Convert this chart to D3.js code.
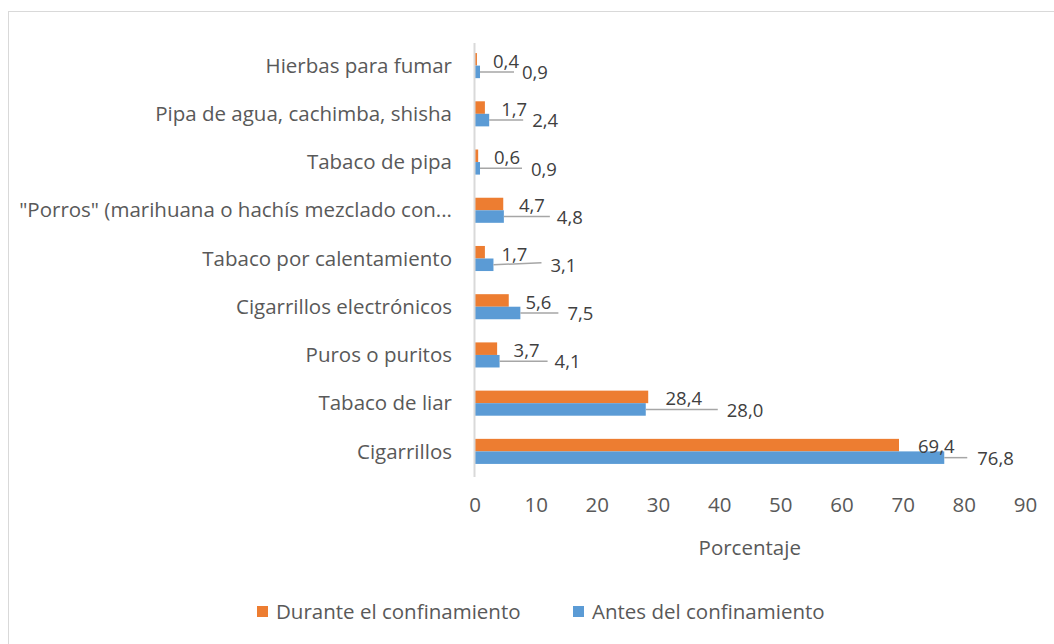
<!DOCTYPE html>
<html>
<head>
<meta charset="utf-8">
<script src="https://cdn.jsdelivr.net/npm/d3@7.9.0/dist/d3.min.js"></script>
<style>
  html, body { margin: 0; padding: 0; background: #fff; }
  svg { display: block; font-family: "Open Sans", sans-serif; }
</style>
</head>
<body>
<svg width="1054" height="644"></svg>
<script>
// categories top to bottom
const categories = [
  'Hierbas para fumar',
  'Pipa de agua, cachimba, shisha',
  'Tabaco de pipa',
  '"Porros" (marihuana o hachís mezclado con...',
  'Tabaco por calentamiento',
  'Cigarrillos electrónicos',
  'Puros o puritos',
  'Tabaco de liar',
  'Cigarrillos'
];
const durante = [0.4, 1.7, 0.6, 4.7, 1.7, 5.6, 3.7, 28.4, 69.4];
const antes = [0.9, 2.4, 0.9, 4.8, 3.1, 7.5, 4.1, 28.0, 76.8];
const seriesNames = ['Durante el confinamiento', 'Antes del confinamiento'];
const xTicks = [0, 10, 20, 30, 40, 50, 60, 70, 80, 90];

// hand-moved label placement (px past the end of the blue bar):
// [orange label centre, leader line end, blue label start]
const labelLayout = [
  [26, 34, 42], [25, 34, 43], [27, 42, 51], [28, 46, 53], [21, 48, 57],
  [18, 38, 47], [27, 48, 55], [38, 72, 81], [-8, 23, 33]
];

const colors = { 'Durante el confinamiento': '#ED7D31', 'Antes del confinamiento': '#5B9BD5' };

const svg = d3.select('svg');

// chart border
svg.append('rect')
  .attr('x', 8.5).attr('y', 11.5)
  .attr('width', 1100).attr('height', 700)
  .attr('fill', 'none').attr('stroke', '#d9d9d9').attr('stroke-width', 1);

const x = d3.scaleLinear().domain([0, 90]).range([474.5, 1025]);
const y = d3.scaleBand().domain(categories).range([43, 477]).paddingInner(0.48).paddingOuter(0.24);
const ySub = d3.scaleBand().domain(seriesNames).range([0, y.bandwidth()]);

const rows = categories.map((c, i) => ({ cat: c, vals: [durante[i], antes[i]], layout: labelLayout[i] }));

// bars
const g = svg.append('g');
rows.forEach(r => {
  seriesNames.forEach((s, j) => {
    g.append('rect')
      .attr('x', x(0))
      .attr('y', y(r.cat) + ySub(s) - 1.5)
      .attr('width', x(r.vals[j]) - x(0))
      .attr('height', ySub.bandwidth())
      .attr('fill', colors[s]);
  });
});

// vertical axis line
svg.append('line')
  .attr('x1', x(0)).attr('x2', x(0))
  .attr('y1', 43).attr('y2', 477)
  .attr('stroke', '#d9d9d9').attr('stroke-width', 2);

// category labels
svg.append('g').selectAll('text')
  .data(categories)
  .join('text')
  .attr('x', 452)
  .attr('y', d => y(d) + y.bandwidth() / 2 - 1.5)
  .attr('dy', '0.35em')
  .attr('text-anchor', 'end')
  .attr('font-size', 20.5)
  .attr('fill', '#595959')
  .text(d => d);

// data labels with leader lines
const lab = svg.append('g').attr('font-size', 18.5).attr('fill', '#404040');
rows.forEach(r => {
  const cy = y(r.cat) + y.bandwidth() / 2;
  const blueEnd = x(r.vals[1]);
  const blueMid = y(r.cat) + ySub(seriesNames[1]) + ySub.bandwidth() / 2 - 1.5;
  const [oDx, lineDx, bDx] = r.layout;
  lab.append('line')
    .attr('x1', blueEnd).attr('y1', blueMid)
    .attr('x2', blueEnd + lineDx).attr('y2', blueMid - (r.cat === 'Tabaco por calentamiento' ? 2 : 0))
    .attr('stroke', '#a6a6a6').attr('stroke-width', 1.5);
  lab.append('text')
    .attr('x', blueEnd + oDx).attr('y', cy + 0.5)
    .attr('text-anchor', 'middle')
    .text(d3.format('.1f')(r.vals[0]).replace('.', ','));
  lab.append('text')
    .attr('x', blueEnd + bDx).attr('y', cy + 12)
    .text(d3.format('.1f')(r.vals[1]).replace('.', ','));
});

// x axis tick labels (no axis line)
const xAxis = d3.axisBottom(x).tickValues(xTicks).tickSize(0).tickPadding(0);
const ax = svg.append('g').attr('transform', 'translate(0,497)').call(xAxis);
ax.select('.domain').remove();
ax.selectAll('text')
  .attr('font-size', 20.5)
  .attr('font-family', '"Open Sans", sans-serif')
  .attr('fill', '#595959');

svg.append('text')
  .attr('x', (x(0) + x(90)) / 2).attr('y', 555)
  .attr('text-anchor', 'middle')
  .attr('font-size', 20.5).attr('fill', '#595959')
  .text('Porcentaje');

// legend
const legendX = [257, 573];
const leg = svg.append('g');
seriesNames.forEach((s, i) => {
  leg.append('rect')
    .attr('x', legendX[i]).attr('y', 606)
    .attr('width', 11).attr('height', 11)
    .attr('fill', colors[s]);
  leg.append('text')
    .attr('x', legendX[i] + 19).attr('y', 619)
    .attr('font-size', 20.5).attr('fill', '#595959')
    .text(s);
});
</script>
</body>
</html>
